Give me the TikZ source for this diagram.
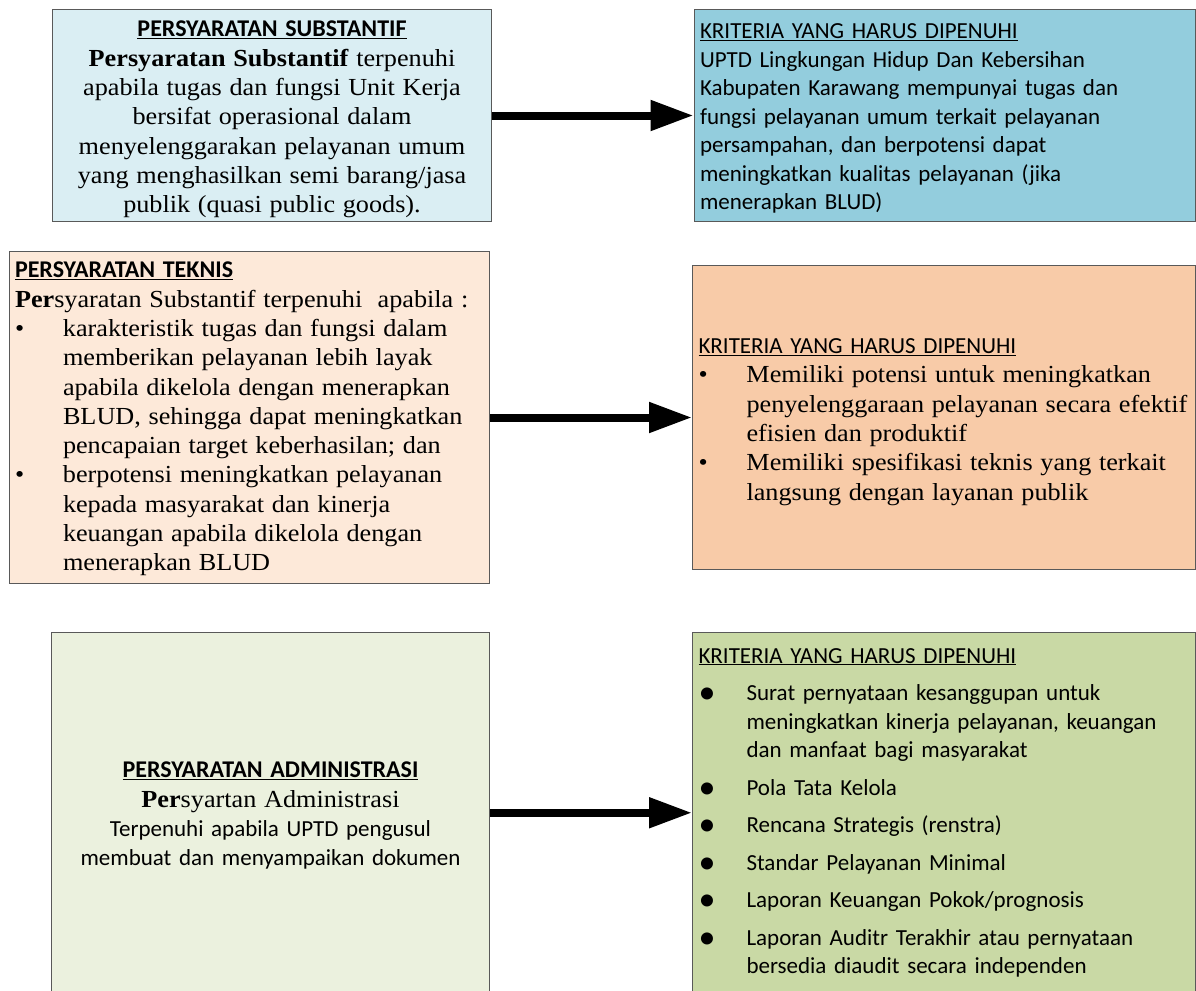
\documentclass[tikz,border=0pt]{standalone}
\usepackage{fontspec}
\setmainfont{Liberation Serif}[FakeStretch=1.07]
\setsansfont{Carlito}
\usetikzlibrary{arrows.meta}
\definecolor{biru}{HTML}{DAEEF3}
\definecolor{birutua}{HTML}{93CDDD}
\definecolor{jingga}{HTML}{FDE9D9}
\definecolor{jinggatua}{HTML}{F8CBA8}
\definecolor{hijau}{HTML}{EBF1DE}
\definecolor{hijautua}{HTML}{C9D9A5}
\definecolor{garis}{HTML}{595959}
\hyphenpenalty=10000
\exhyphenpenalty=10000
\newcommand{\sans}{\sffamily\fontsize{23}{28.5}\selectfont}
\newcommand{\sansb}{\sffamily\fontsize{23}{29.3}\selectfont}
\newcommand{\serif}{\rmfamily\fontsize{24.5}{29.3}\selectfont}
\newcommand{\judul}[1]{\underline{#1}}
\newcommand{\judulb}[1]{{\fontsize{24}{29.3}\selectfont\textbf{\underline{#1}}}}
\newcommand{\turun}[1]{\rule{0pt}{#1}}
\newcommand{\butir}[1]{\makebox[48pt][l]{\textbullet}#1}
\newcommand{\butirb}[1]{\makebox[48pt][l]{\raisebox{-3pt}{\fontsize{34}{29}\selectfont\textbullet}}#1}
\newcommand{\lanjut}{\hspace*{48pt}}
\tikzset{
	kotak/.style={draw=garis, line width=1pt, inner xsep=6pt, inner ysep=0pt, font=\sans},
	panah/.style={line width=8pt, -{Triangle[length=43pt,width=29pt]}}
}
\begin{document}
\begin{tikzpicture}[x=1pt,y=-1pt]
	\useasboundingbox (0,0) rectangle (1196,990);
	\node[kotak, font=\sansb, fill=biru, text width=427pt, minimum height=211pt, align=center] (subst) at (272,115.5)
		{\turun{24pt}\judulb{PERSYARATAN SUBSTANTIF}\\
		{\serif\textbf{Persyaratan Substantif} terpenuhi}\\
		{\serif apabila tugas dan fungsi Unit Kerja}\\
		{\serif bersifat operasional dalam}\\
		{\serif menyelenggarakan pelayanan umum}\\
		{\serif yang menghasilkan semi barang/jasa}\\
		{\serif publik (quasi public goods).}};
	\node[kotak, fill=birutua, text width=489.5pt, minimum height=211pt, align=left] (krit1) at (944.75,115.5)
		{\turun{21pt}\judul{KRITERIA YANG HARUS DIPENUHI}\\
		UPTD Lingkungan Hidup Dan Kebersihan\\
		Kabupaten Karawang mempunyai tugas dan\\
		fungsi pelayanan umum terkait pelayanan\\
		persampahan, dan berpotensi dapat\\
		meningkatkan kualitas pelayanan (jika\\
		menerapkan BLUD)};
	\node[kotak, font=\sansb, fill=jingga, text width=468.5pt, minimum height=332pt, align=left] (teknis) at (249.25,417.5)
		{\turun{19pt}\judulb{PERSYARATAN TEKNIS}\\
		{\serif\textbf{Per}syaratan Substantif terpenuhi\ \ apabila :}\\
		{\serif\butir{karakteristik tugas dan fungsi dalam}}\\
		{\serif\lanjut memberikan pelayanan lebih layak}\\
		{\serif\lanjut apabila dikelola dengan menerapkan}\\
		{\serif\lanjut BLUD, sehingga dapat meningkatkan}\\
		{\serif\lanjut pencapaian target keberhasilan; dan}\\
		{\serif\butir{berpotensi meningkatkan pelayanan}}\\
		{\serif\lanjut kepada masyarakat dan kinerja}\\
		{\serif\lanjut keuangan apabila dikelola dengan}\\
		{\serif\lanjut menerapkan BLUD}};
	\node[kotak, font=\sansb, fill=jinggatua, text width=491pt, minimum height=303.5pt, align=left] (krit2) at (944,417.5)
		{\turun{24pt}\judul{KRITERIA YANG HARUS DIPENUHI}\\
		{\serif\butir{Memiliki potensi untuk meningkatkan}}\\
		{\serif\lanjut penyelenggaraan pelayanan secara efektif}\\
		{\serif\lanjut efisien dan produktif}\\
		{\serif\butir{Memiliki spesifikasi teknis yang terkait}}\\
		{\serif\lanjut langsung dengan layanan publik}};
	\node[kotak, font=\sansb, fill=hijau, text width=426pt, minimum height=360.5pt, align=center] (admin) at (270.5,812.75)
		{\turun{22pt}\judulb{PERSYARATAN ADMINISTRASI}\\
		{\serif\textbf{Per}syartan Administrasi}\\
		Terpenuhi apabila UPTD pengusul\\
		membuat dan menyampaikan dokumen};
	\node[kotak, fill=hijautua, text width=491pt, minimum height=360.5pt, align=left] (krit3) at (944,812.75)
		{\judul{KRITERIA YANG HARUS DIPENUHI}\\[9pt]
		\butirb{Surat pernyataan kesanggupan untuk}\\
		\lanjut meningkatkan kinerja pelayanan, keuangan\\
		\lanjut dan manfaat bagi masyarakat\\[9pt]
		\butirb{Pola Tata Kelola}\\[9pt]
		\butirb{Rencana Strategis (renstra)}\\[9pt]
		\butirb{Standar Pelayanan Minimal}\\[9pt]
		\butirb{Laporan Keuangan Pokok/prognosis}\\[9pt]
		\butirb{Laporan Auditr Terakhir atau pernyataan}\\
		\lanjut bersedia diaudit secara independen};
	\draw[panah] (subst) -- (krit1);
	\draw[panah] (teknis) -- (krit2);
	\draw[panah] (admin) -- (krit3);
\end{tikzpicture}
\end{document}
